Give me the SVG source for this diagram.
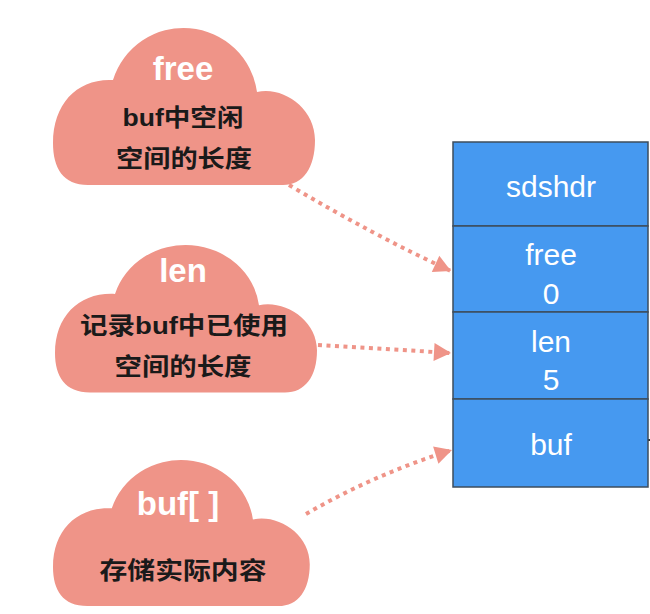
<svg xmlns="http://www.w3.org/2000/svg" width="650" height="614" viewBox="0 0 650 614">
<style>
.cloud{fill:#EF9488;}
.title{font-family:"Liberation Sans","Noto Sans",Arial,sans-serif;font-weight:bold;font-size:33px;fill:#ffffff;text-anchor:middle;}
.cn{font-family:"Liberation Sans","Noto Sans CJK SC",sans-serif;font-weight:bold;font-size:24px;fill:#1a1a1a;text-anchor:middle;}
.cell{fill:#4699F0;stroke:#3E4D5C;stroke-width:1.5;}
.ct{font-family:"Liberation Sans","Noto Sans",Arial,sans-serif;font-size:30px;fill:#ffffff;text-anchor:middle;}
.conn{fill:none;stroke:#EF9488;stroke-width:4;stroke-dasharray:4 4.5;}
</style>
<defs>
<path id="cloudShape" d="M 35 157 C 10 157 0 140 0 115 C 0 75 25 50 60 52 A 74 74 0 0 1 204 64 C 230 58 262 80 262 112 C 262 140 250 157 230 157 Z"/>
<marker id="arr" markerUnits="userSpaceOnUse" markerWidth="22" markerHeight="22" viewBox="0 0 22 22" refX="20" refY="11" orient="auto">
<path d="M 3 2 L 20 11 L 3 20 Z" fill="#EF9488"/>
</marker>
</defs>

<g id="connectors">
<path class="conn" d="M 289 185 Q 375 236 451 271" marker-end="url(#arr)"/>
<path class="conn" d="M 318 345 L 451 353" marker-end="url(#arr)"/>
<path class="conn" d="M 306 514 Q 375 474 452 450" marker-end="url(#arr)"/>
<line x1="647" y1="440" x2="650" y2="440" stroke="#333" stroke-width="2"/>
</g>

<g id="cloud-free">
<use href="#cloudShape" class="cloud" transform="translate(53,28)"/>
<text class="title" x="183" y="80">free</text>
<text class="cn" x="183" y="126" textLength="121" lengthAdjust="spacingAndGlyphs">buf中空闲</text>
<text class="cn" x="184" y="167" textLength="136" lengthAdjust="spacingAndGlyphs">空间的长度</text>
</g>

<g id="cloud-len">
<use href="#cloudShape" class="cloud" transform="translate(55,245) scale(1,0.94)"/>
<text class="title" x="183" y="282">len</text>
<text class="cn" x="184" y="334" textLength="208" lengthAdjust="spacingAndGlyphs">记录buf中已使用</text>
<text class="cn" x="183" y="375" textLength="137" lengthAdjust="spacingAndGlyphs">空间的长度</text>
</g>

<g id="cloud-buf">
<use href="#cloudShape" class="cloud" transform="translate(53,460) scale(0.98,0.93)"/>
<text class="title" x="178" y="515">buf[ ]</text>
<text class="cn" x="183" y="579" textLength="167" lengthAdjust="spacingAndGlyphs">存储实际内容</text>
</g>

<g id="sdshdr">
<rect class="cell" x="453" y="142" width="195" height="84"/>
<text class="ct" x="551" y="197">sdshdr</text>
</g>
<g id="field-free">
<rect class="cell" x="453" y="226" width="195" height="86"/>
<text class="ct" x="551" y="265">free</text>
<text class="ct" x="551" y="304">0</text>
</g>
<g id="field-len">
<rect class="cell" x="453" y="312" width="195" height="87"/>
<text class="ct" x="551" y="352">len</text>
<text class="ct" x="551" y="390">5</text>
</g>
<g id="field-buf">
<rect class="cell" x="453" y="399" width="195" height="88"/>
<text class="ct" x="551" y="455">buf</text>
</g>
</svg>
